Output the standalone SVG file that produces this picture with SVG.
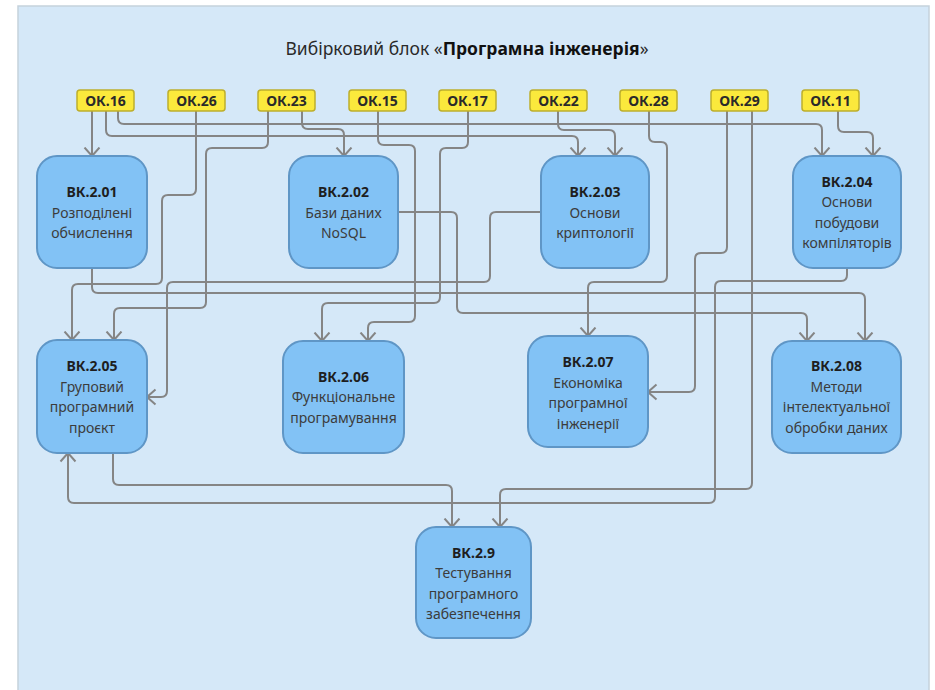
<svg xmlns="http://www.w3.org/2000/svg" width="935" height="690" viewBox="0 0 935 690">
<style>
.node rect{fill:#82c2f5;stroke:#5f96c6;stroke-width:2}
.ok rect{fill:#fbe93c;stroke:#bdae2c;stroke-width:1.5}
.ok text{font-family:"Noto Sans","Open Sans",sans-serif;font-size:14px;font-weight:bold;fill:#2a2a2a;text-anchor:middle}
.node text{font-family:"Noto Sans","Open Sans",sans-serif;font-size:14px;fill:#3c3c3c;text-anchor:middle}
.node text.id{font-weight:bold;fill:#1e1e1e}
.conn path{fill:none;stroke:#858585;stroke-width:2;marker-end:url(#arr)}
</style>
<defs>
<marker id="arr" viewBox="-1 -9 11 18" markerWidth="11" markerHeight="18" refX="8.5" refY="0" orient="auto" markerUnits="userSpaceOnUse">
<path d="M0,-7.5 L8.5,0 L0,7.5" fill="none" stroke="#858585" stroke-width="2"/>
</marker>
</defs>
<rect x="0" y="0" width="935" height="690" fill="#ffffff"/>
<rect x="18" y="6" width="911" height="700" fill="#d5e8f8" stroke="#c5d2dc" stroke-width="1.5"/>
<text x="467" y="55" font-family="Noto Sans, Open Sans, sans-serif" font-size="17.5" fill="#2a2a2a" text-anchor="middle">Вибірковий блок «<tspan font-weight="bold" fill="#111">Програмна інженерія</tspan>»</text>

<g id="connectors" class="conn">
<path d="M92,111 V156"/>
<path d="M106,111 V130 Q106,136 112,136 H572 Q578,136 578,142 V156"/>
<path d="M118,111 V118 Q118,124 124,124 H816 Q822,124 822,130 V156"/>
<path d="M302,111 V123 Q302,129 308,129 H338 Q344,129 344,135 V156"/>
<path d="M558,111 V124 Q558,130 564,130 H609 Q615,130 615,136 V156"/>
<path d="M838,111 V126 Q838,132 844,132 H867 Q873,132 873,138 V156"/>
<path d="M196,111 V189 Q196,195 190,195 H168 Q162,195 162,201 V278 Q162,284 156,284 H78 Q72,284 72,290 V340"/>
<path d="M268,111 V142 Q268,148 262,148 H212 Q206,148 206,154 V302 Q206,308 200,308 H120 Q114,308 114,314 V340"/>
<path d="M378,111 V139 Q378,145 384,145 H409 Q415,145 415,151 V316 Q415,322 409,322 H374 Q368,322 368,328 V341"/>
<path d="M468,111 V142 Q468,148 462,148 H446 Q440,148 440,154 V297 Q440,303 434,303 H328 Q322,303 322,309 V341"/>
<path d="M649,111 V136 Q649,142 655,142 H661 Q667,142 667,148 V276 Q667,282 661,282 H594 Q588,282 588,288 V336"/>
<path d="M727,111 V247 Q727,253 721,253 H701 Q695,253 695,259 V386 Q695,392 689,392 H648"/>
<path d="M752,111 V483 Q752,489 746,489 H506 Q500,489 500,495 V527"/>
<path d="M92,268 V287 Q92,293 98,293 H859 Q865,293 865,299 V341"/>
<path d="M398,212 H451 Q457,212 457,218 V307 Q457,313 463,313 H801 Q807,313 807,319 V341"/>
<path d="M541,212 H496 Q490,212 490,218 V276 Q490,282 484,282 H173 Q167,282 167,288 V391 Q167,397 161,397 H147"/>
<path d="M847,268 V275 Q847,281 841,281 H721 Q715,281 715,287 V497 Q715,503 709,503 H74 Q68,503 68,497 V453"/>
<path d="M113,453 V479 Q113,485 119,485 H446 Q452,485 452,491 V527"/>
</g>

<g id="ok16" class="ok"><rect x="77" y="90" width="57" height="21" rx="3"/><text x="105.5" y="105.5">ОК.16</text></g>
<g id="ok26" class="ok"><rect x="168" y="90" width="57" height="21" rx="3"/><text x="196.5" y="105.5">ОК.26</text></g>
<g id="ok23" class="ok"><rect x="258" y="90" width="57" height="21" rx="3"/><text x="286.5" y="105.5">ОК.23</text></g>
<g id="ok15" class="ok"><rect x="349" y="90" width="57" height="21" rx="3"/><text x="377.5" y="105.5">ОК.15</text></g>
<g id="ok17" class="ok"><rect x="439" y="90" width="57" height="21" rx="3"/><text x="467.5" y="105.5">ОК.17</text></g>
<g id="ok22" class="ok"><rect x="530" y="90" width="57" height="21" rx="3"/><text x="558.5" y="105.5">ОК.22</text></g>
<g id="ok28" class="ok"><rect x="620" y="90" width="57" height="21" rx="3"/><text x="648.5" y="105.5">ОК.28</text></g>
<g id="ok29" class="ok"><rect x="711" y="90" width="57" height="21" rx="3"/><text x="739.5" y="105.5">ОК.29</text></g>
<g id="ok11" class="ok"><rect x="802" y="90" width="57" height="21" rx="3"/><text x="830.5" y="105.5">ОК.11</text></g>

<g id="bk201" class="node"><rect x="37" y="156" width="110" height="112" rx="20"/>
<text class="id" x="92" y="197">ВК.2.01</text><text x="92" y="218">Розподілені</text><text x="92" y="238">обчислення</text></g>
<g id="bk202" class="node"><rect x="289" y="156" width="109" height="112" rx="20"/>
<text class="id" x="343.5" y="197">ВК.2.02</text><text x="343.5" y="218">Бази даних</text><text x="343.5" y="238">NoSQL</text></g>
<g id="bk203" class="node"><rect x="541" y="156" width="108" height="112" rx="20"/>
<text class="id" x="595" y="197">ВК.2.03</text><text x="595" y="218">Основи</text><text x="595" y="238">криптології</text></g>
<g id="bk204" class="node"><rect x="793" y="156" width="108" height="112" rx="20"/>
<text class="id" x="847" y="187">ВК.2.04</text><text x="847" y="207">Основи</text><text x="847" y="228">побудови</text><text x="847" y="248">компіляторів</text></g>
<g id="bk205" class="node"><rect x="37" y="340" width="110" height="113" rx="20"/>
<text class="id" x="92" y="371">ВК.2.05</text><text x="92" y="392">Груповий</text><text x="92" y="412">програмний</text><text x="92" y="433">проєкт</text></g>
<g id="bk206" class="node"><rect x="283" y="341" width="121" height="112" rx="20"/>
<text class="id" x="343.5" y="382">ВК.2.06</text><text x="343.5" y="402">Функціональне</text><text x="343.5" y="423">програмування</text></g>
<g id="bk207" class="node"><rect x="528" y="336" width="120" height="111" rx="20"/>
<text class="id" x="588" y="367">ВК.2.07</text><text x="588" y="388">Економіка</text><text x="588" y="408">програмної</text><text x="588" y="429">інженерії</text></g>
<g id="bk208" class="node"><rect x="772" y="341" width="129" height="112" rx="20"/>
<text class="id" x="836.5" y="371">ВК.2.08</text><text x="836.5" y="392">Методи</text><text x="836.5" y="412">інтелектуальної</text><text x="836.5" y="433">обробки даних</text></g>
<g id="bk29" class="node"><rect x="416" y="527" width="115" height="111" rx="20"/>
<text class="id" x="473.5" y="558">ВК.2.9</text><text x="473.5" y="578">Тестування</text><text x="473.5" y="599">програмного</text><text x="473.5" y="619">забезпечення</text></g>
</svg>
